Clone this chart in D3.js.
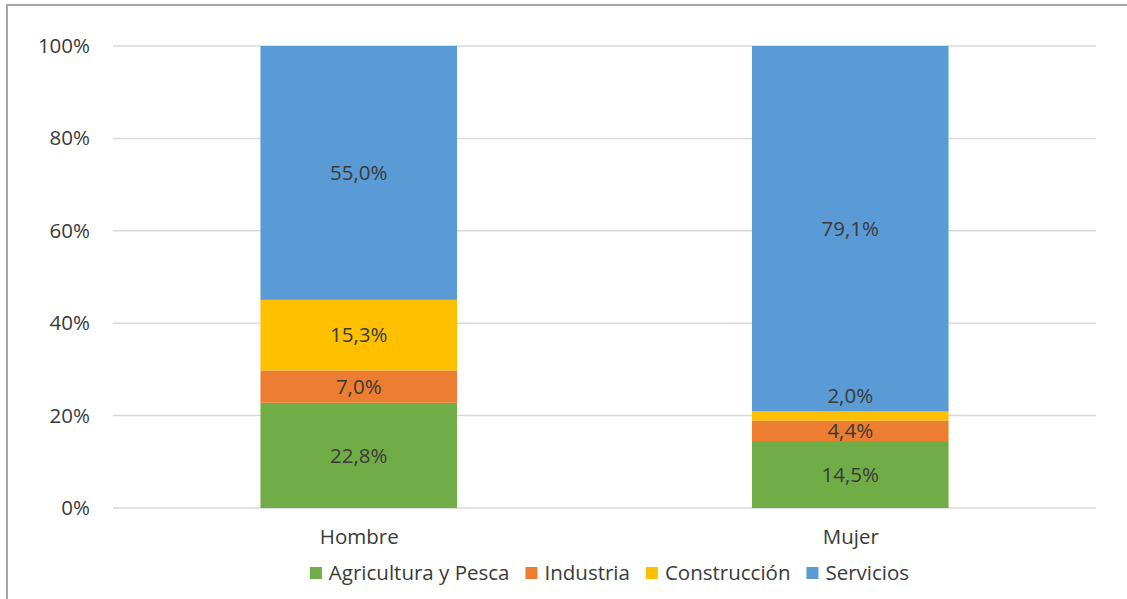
<!DOCTYPE html>
<html><head><meta charset="utf-8">
<script src="https://cdn.jsdelivr.net/npm/d3@7"></script>
<style>
html,body{margin:0;padding:0;background:#fff;}
text{font-family:"Open Sans","Noto Sans",sans-serif;}
</style></head>
<body><svg id="chart" width="1127" height="599"></svg>
<script>
const categories = ["Hombre", "Mujer"];
const seriesNames = ["Agricultura y Pesca", "Industria", "Construcción", "Servicios"];
const agricultura = [22.8, 14.5];
const industria = [7.0, 4.4];
const construccion = [15.3, 2.0];
const servicios = [55.0, 79.1];
const colors = ["#70ad47", "#ed7d31", "#ffc000", "#5b9bd5"];
const yTicks = [0, 0.2, 0.4, 0.6, 0.8, 1.0];

const seriesValues = [agricultura, industria, construccion, servicios];
const rows = categories.map((c, i) => {
  const r = {cat: c};
  seriesNames.forEach((s, j) => r[s] = seriesValues[j][i]);
  return r;
});

const FS = 20.5;
const svg = d3.select("#chart");
svg.append("rect").attr("x", 7).attr("y", 5).attr("width", 1140).attr("height", 620)
  .attr("fill", "none").attr("stroke", "#a6a6a6").attr("stroke-width", 2);

const pLeft = 113, pRight = 1096, pTop = 46, pBottom = 508;
const x = d3.scalePoint().domain(categories).range([pLeft, pRight]).padding(0.5);
const barW = x.step() * 0.4;
const y = d3.scaleLinear().domain([0, 1]).range([pBottom, pTop]);

// gridlines
svg.append("g").selectAll("line").data(yTicks).join("line")
  .attr("x1", pLeft).attr("x2", pRight)
  .attr("y1", d => y(d)).attr("y2", d => y(d))
  .attr("stroke", "#d9d9d9").attr("stroke-width", 1.5);

// y axis labels
const yAxis = d3.axisLeft(y).tickValues(yTicks).tickFormat(d3.format(".0%")).tickSize(0).tickPadding(0);
const ya = svg.append("g").attr("transform", `translate(90,0)`).call(yAxis);
ya.select(".domain").remove();
ya.selectAll("text").attr("font-size", FS).attr("fill", "#3a3a3a")
  .style("font-family", '"Open Sans","Noto Sans",sans-serif');

const stack = d3.stack().keys(seriesNames).offset(d3.stackOffsetExpand);
const stacked = stack(rows);

const fmt = v => v.toFixed(1).replace(".", ",") + "%";

stacked.forEach((layer, li) => {
  const g = svg.append("g");
  g.selectAll("rect").data(layer).join("rect")
    .attr("x", d => x(d.data.cat) - barW / 2)
    .attr("width", barW)
    .attr("y", d => y(d[1]))
    .attr("height", d => y(d[0]) - y(d[1]))
    .attr("fill", colors[li]);
});
stacked.forEach((layer, li) => {
  svg.append("g").selectAll("text").data(layer).join("text")
    .attr("x", d => x(d.data.cat))
    .attr("y", d => {
      const h = y(d[0]) - y(d[1]);
      return h < 15 ? y(d[1]) - 16 : (y(d[0]) + y(d[1])) / 2;
    })
    .attr("dy", "0.35em")
    .attr("text-anchor", "middle")
    .attr("font-size", FS).attr("fill", "#3a3a3a")
    .text(d => fmt(d.data[layer.key]));
});

// x axis labels
const xAxis = d3.axisBottom(x).tickSize(0).tickPadding(0);
const xa = svg.append("g").attr("transform", `translate(0,${pBottom + 21})`).call(xAxis);
xa.select(".domain").remove();
xa.selectAll("text").attr("font-size", FS).attr("fill", "#3a3a3a")
  .style("font-family", '"Open Sans","Noto Sans",sans-serif');

// legend
const legend = svg.append("g");
const items = [];
seriesNames.forEach((s, i) => {
  const it = legend.append("g");
  it.append("rect").attr("x", 0).attr("y", -6).attr("width", 12).attr("height", 12).attr("fill", colors[i]);
  const t = it.append("text").attr("x", 19).attr("y", 0).attr("dy", "0.35em")
    .attr("font-size", FS).attr("fill", "#3a3a3a").text(s);
  items.push({it, w: 19 + t.node().getComputedTextLength()});
});
const gap = 16;
const total = d3.sum(items, d => d.w) + gap * (items.length - 1);
let cx = 609.5 - total / 2;
items.forEach(d => { d.it.attr("transform", `translate(${cx},573)`); cx += d.w + gap; });
</script></body></html>
